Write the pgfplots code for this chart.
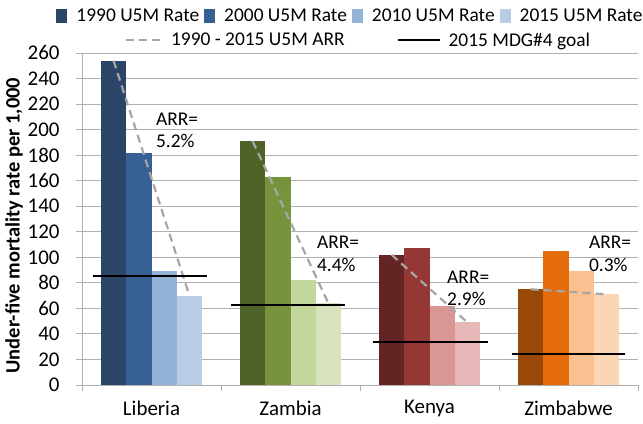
\documentclass[border=0pt]{standalone}
\usepackage{pgfplots}
\pgfplotsset{compat=1.18}
\usepackage{fontspec}
\setmainfont{Carlito}
\definecolor{b1}{HTML}{2A4568}
\definecolor{b2}{HTML}{376194}
\definecolor{b3}{HTML}{95B3D7}
\definecolor{b4}{HTML}{B9CDE5}
\definecolor{g1}{HTML}{4F6228}
\definecolor{g2}{HTML}{77933C}
\definecolor{g3}{HTML}{C3D69B}
\definecolor{g4}{HTML}{D7E4BD}
\definecolor{r1}{HTML}{632523}
\definecolor{r2}{HTML}{953735}
\definecolor{r3}{HTML}{D99694}
\definecolor{r4}{HTML}{E6B9B8}
\definecolor{o1}{HTML}{984807}
\definecolor{o2}{HTML}{E46C0A}
\definecolor{o3}{HTML}{FAC090}
\definecolor{o4}{HTML}{FCD5B5}
\definecolor{gridgrey}{HTML}{B0B0B0}
\definecolor{dashgrey}{HTML}{A6A6A6}
\pgfplotsset{
  bar/.style={ybar, bar width=0.1818, bar shift=0pt, fill=#1, draw=none,
    legend image code/.code={\fill[##1] (0bp,-7bp) rectangle (11bp,7bp);}},
  arrline/.style={dashgrey, line width=2.2bp, dash pattern=on 8bp off 5bp},
  arr/.style={arrline, forget plot},
  mdgline/.style={black, line width=2bp},
  mdg/.style={mdgline, forget plot},
  arrleg/.style={arrline,
    legend image code/.code={\draw[##1] (0bp,0bp) -- (36bp,0bp);}},
  mdgleg/.style={mdgline,
    legend image code/.code={\draw[##1] (0bp,0bp) -- (42bp,0bp);}},
}
\tikzset{arrtxt/.style={anchor=base west, inner sep=0pt, font=\fontsize{19.5}{23}\selectfont}}
\begin{document}
\begin{tikzpicture}
\useasboundingbox (0,0) rectangle (643bp,424bp);
\begin{axis}[
  at={(82bp,39bp)}, anchor=south west,
  scale only axis, width=556bp, height=332bp,
  xmin=-0.5, xmax=3.5, ymin=0, ymax=260,
  ytick={0,20,...,260},
  ymajorgrids, grid style={draw=gridgrey, line width=0.9bp},
  axis lines*=left,
  axis line style={draw=gridgrey, line width=0.9bp},
  tick align=outside, major tick length=6bp,
  tick style={draw=gridgrey, line width=0.9bp},
  xtick={-0.5,0.5,1.5,2.5,3.5}, xticklabels={},
  extra x ticks={0,1,2,3},
  extra x tick labels={Liberia,Zambia,Kenya,Zimbabwe},
  extra x tick style={major tick length=0pt, grid=none, tick style={draw=none},
    ticklabel style={yshift=-12bp}},
  ticklabel style={font=\fontsize{21}{25}\selectfont},
  yticklabel style={xshift=-13bp},
  /pgf/number format/assume math mode=true,
  ylabel={Under-five mortality rate per 1,000},
  ylabel style={font=\fontsize{20.5}{24}\selectfont\bfseries,
    at={(axis description cs:-0.1223,0.48)}, anchor=center},
  legend style={at={(axis description cs:0.481,1.111)}, anchor=center,
    draw=none, fill=none, font=\fontsize{19.5}{23}\selectfont,
    nodes={inner sep=0pt},
    /tikz/every odd column/.append style={column sep=9bp},
    /tikz/every even column/.append style={column sep=5bp}},
  legend columns=4,
  clip=false,
]
% Liberia
\addplot[bar=b1] coordinates {(-0.2727,254)}; \addlegendentry{1990 U5M Rate}
\addplot[bar=b2] coordinates {(-0.0909,182)}; \addlegendentry{2000 U5M Rate}
\addplot[bar=b3] coordinates {(0.0909,89)};   \addlegendentry{2010 U5M Rate}
\addplot[bar=b4] coordinates {(0.2727,70)};   \addlegendentry{2015 U5M Rate}
% Zambia
\addplot[bar=g1, forget plot] coordinates {(0.7273,191)};
\addplot[bar=g2, forget plot] coordinates {(0.9091,163)};
\addplot[bar=g3, forget plot] coordinates {(1.0909,82)};
\addplot[bar=g4, forget plot] coordinates {(1.2727,64)};
% Kenya
\addplot[bar=r1, forget plot] coordinates {(1.7273,102)};
\addplot[bar=r2, forget plot] coordinates {(1.9091,107)};
\addplot[bar=r3, forget plot] coordinates {(2.0909,62)};
\addplot[bar=r4, forget plot] coordinates {(2.2727,49)};
% Zimbabwe
\addplot[bar=o1, forget plot] coordinates {(2.7273,75)};
\addplot[bar=o2, forget plot] coordinates {(2.9091,105)};
\addplot[bar=o3, forget plot] coordinates {(3.0909,89)};
\addplot[bar=o4, forget plot] coordinates {(3.2727,71)};
% ARR lines
\addplot[arr] coordinates {(-0.2727,254) (0.2727,70)};
\addplot[arr] coordinates {(0.7273,191) (1.2727,64)};
\addplot[arr] coordinates {(1.7273,102) (2.2727,49)};
\addplot[arr] coordinates {(2.7273,75) (3.2727,71)};
% MDG goal
\addplot[mdg] coordinates {(-0.42,85) (0.40,85)};
\addplot[mdg] coordinates {(0.57,63) (1.39,63)};
\addplot[mdg] coordinates {(1.59,34) (2.42,34)};
\addplot[mdg] coordinates {(2.59,24) (3.41,24)};
% ARR text
\node[arrtxt] at (axis cs:0.032,203.3) {ARR=};
\node[arrtxt] at (axis cs:0.032,185.8) {5.2\%};
\node[arrtxt] at (axis cs:1.19,106.6) {ARR=};
\node[arrtxt] at (axis cs:1.19,88.9) {4.4\%};
\node[arrtxt] at (axis cs:2.126,79.8) {ARR=};
\node[arrtxt] at (axis cs:2.126,62) {2.9\%};
\node[arrtxt] at (axis cs:3.147,106.6) {ARR=};
\node[arrtxt] at (axis cs:3.147,88.9) {0.3\%};
\end{axis}
\begin{axis}[
  at={(82bp,39bp)}, anchor=south west,
  scale only axis, width=556bp, height=332bp,
  hide axis, xmin=0, xmax=1, ymin=0, ymax=1,
  legend style={at={(axis description cs:0.4955,1.039)}, anchor=center,
    draw=none, fill=none, font=\fontsize{19.5}{23}\selectfont,
    nodes={inner sep=0pt},
    /tikz/every odd column/.append style={column sep=8bp},
    /tikz/every even column/.append style={column sep=52bp}},
  legend columns=2,
]
\addlegendimage{arrleg}
\addlegendentry{1990 - 2015 U5M ARR}
\addlegendimage{mdgleg}
\addlegendentry{2015 MDG\#4 goal}
\end{axis}
\end{tikzpicture}
\end{document}
